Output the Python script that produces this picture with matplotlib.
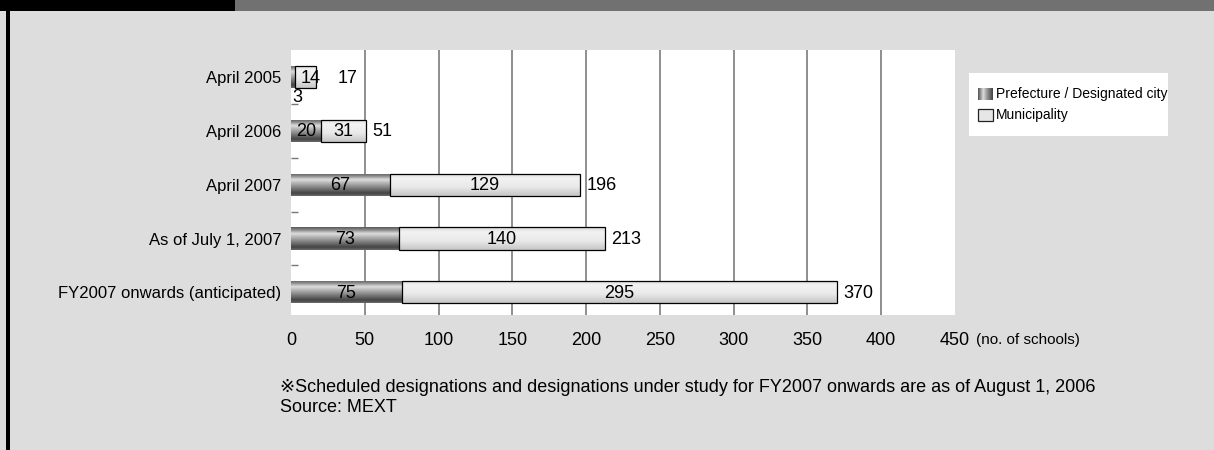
import numpy as np
import matplotlib
matplotlib.use("Agg")
import matplotlib.pyplot as plt
from matplotlib.patches import Rectangle
from matplotlib.colors import LinearSegmentedColormap

# ---- data -------------------------------------------------------------
categories = ["April 2005", "April 2006", "April 2007",
              "As of July 1, 2007", "FY2007 onwards (anticipated)"]
prefecture = [3, 20, 67, 73, 75]
municipality = [14, 31, 129, 140, 295]
series_names = ["Prefecture / Designated city", "Municipality"]
x_ticks = [0, 50, 100, 150, 200, 250, 300, 350, 400, 450]
x_unit = "(no. of schools)"
notes = ["\u203bScheduled designations and designations under study for FY2007 onwards are as of August 1, 2006",
         "Source: MEXT"]

# ---- style ------------------------------------------------------------
W, H = 1214, 450
BG = "#dcdddc"
NARROW = ["Liberation Sans Narrow", "Liberation Sans", "DejaVu Sans"]
REGULAR = ["Liberation Sans", "DejaVu Sans"]

dark_cmap = LinearSegmentedColormap.from_list(
    "dark", [(0.0, "#5a5a5a"), (0.12, "#8a8a8a"), (0.28, "#dedede"),
             (0.45, "#b0b0b0"), (0.70, "#707070"), (0.88, "#444444"),
             (1.0, "#6a6a6a")])
light_cmap = LinearSegmentedColormap.from_list(
    "light", [(0.0, "#d4d4d4"), (0.2, "#f2f2f2"), (0.6, "#e9e9e9"),
              (1.0, "#c6c6c6")])
grad = np.linspace(0, 1, 64).reshape(-1, 1)

fig = plt.figure(figsize=(W / 100, H / 100), dpi=100, facecolor=BG)

# page decoration: header strip and left rule
fig.patches.append(Rectangle((0, 1 - 11 / H), 235 / W, 11 / H, transform=fig.transFigure,
                             facecolor="black", edgecolor="none"))
fig.patches.append(Rectangle((235 / W, 1 - 11 / H), 1 - 235 / W, 11 / H, transform=fig.transFigure,
                             facecolor="#717171", edgecolor="none"))
fig.patches.append(Rectangle((6 / W, 0), 4 / W, 1 - 11 / H, transform=fig.transFigure,
                             facecolor="black", edgecolor="none"))

# ---- main axes --------------------------------------------------------
ax_l, ax_r, ax_t, ax_b = 291, 955, 50, 315
ax = fig.add_axes([ax_l / W, 1 - ax_b / H, (ax_r - ax_l) / W, (ax_b - ax_t) / H])
ax.set_facecolor("white")
for s in ax.spines.values():
    s.set_visible(False)

y = np.arange(len(categories))
bar_h = 0.41
totals = [p + m for p, m in zip(prefecture, municipality)]

pref_bars = ax.barh(y, prefecture, height=bar_h, color="none", edgecolor="none", zorder=3)
muni_bars = ax.barh(y, municipality, left=prefecture, height=bar_h, color="none",
                    edgecolor="black", linewidth=0.9, zorder=4)

def fill_gradient(patch, cmap):
    x0, y0 = patch.get_x(), patch.get_y()
    w, h = patch.get_width(), patch.get_height()
    im = ax.imshow(grad, cmap=cmap, vmin=0, vmax=1, aspect="auto", origin="upper",
                   extent=(x0, x0 + w, y0 + h, y0), interpolation="bilinear", zorder=2.5)
    im.set_clip_path(patch)

for p in pref_bars:
    fill_gradient(p, dark_cmap)
for p in muni_bars:
    fill_gradient(p, light_cmap)

for xv in x_ticks[1:-1]:
    ax.axvline(xv, color="#7c7c7c", linewidth=1.2, zorder=1)

ax.set_xlim(x_ticks[0], x_ticks[-1])
ax.set_ylim(4.42, -0.5)

ax.set_xticks(x_ticks)
ax.set_xticklabels([str(t) for t in x_ticks], fontsize=13, family=REGULAR)
ax.tick_params(axis="x", length=0, pad=12)
ax.set_yticks(y)
ax.set_yticklabels(categories, fontsize=12, family=NARROW)
ax.tick_params(axis="y", which="major", length=0, pad=7)
ax.set_yticks(y[:-1] + 0.5, minor=True)
ax.tick_params(axis="y", which="minor", direction="in", length=5, width=1, color="#777777")

# value labels
px = 1.0 / ((ax_r - ax_l) / (x_ticks[-1] - x_ticks[0]))  # data units per pixel
for i in range(len(categories)):
    p, m, t = prefecture[i], municipality[i], totals[i]
    if p >= 8:
        ax.text(p / 2, i + 0.02, str(p), ha="center", va="center", fontsize=13,
                family=REGULAR, zorder=6)
    else:
        ax.text(p / 2 + 3, i + 0.39, str(p), ha="center", va="center", fontsize=13,
                family=REGULAR, zorder=6)
    ax.text(p + m / 2 + (3 if m < 20 else 0), i + 0.02, str(m), ha="center", va="center",
            fontsize=13, family=REGULAR, zorder=6)
    off = 22 if m < 20 else 6
    ax.text(t + off * px, i + 0.02, str(t), ha="left", va="center", fontsize=13,
            family=REGULAR, zorder=6)

fig.text(976 / W, 1 - 340 / H, x_unit, ha="left", va="center", fontsize=11, family=NARROW)

# ---- legend -----------------------------------------------------------
lg = fig.add_axes([969 / W, 1 - 136 / H, 199 / W, 63 / H])
lg.set_facecolor("white")
lg.set_xticks([])
lg.set_yticks([])
for s in lg.spines.values():
    s.set_visible(False)
hgrad = np.linspace(0, 1, 32).reshape(1, -1)
stripe_cmap = LinearSegmentedColormap.from_list(
    "stripe", [(0.0, "#555555"), (0.35, "#dddddd"), (0.6, "#999999"), (1.0, "#444444")])
rows = [21, 42]
lg.imshow(hgrad, cmap=stripe_cmap, aspect="auto", extent=(9, 24, rows[0] + 6, rows[0] - 6),
          interpolation="bilinear")
sw = Rectangle((9, rows[1] - 6), 15, 12, facecolor="#e6e6e6", edgecolor="#222222", linewidth=0.9)
lg.add_patch(sw)
lg.set_xlim(0, 199)
lg.set_ylim(63, 0)
for r, name in zip(rows, series_names):
    lg.text(27, r, name, ha="left", va="center", fontsize=10, family=NARROW)

# ---- notes ------------------------------------------------------------
fig.text(280 / W, 1 - 387 / H, notes[0], ha="left", va="center", fontsize=13, family=NARROW)
fig.text(280 / W, 1 - 408 / H, notes[1], ha="left", va="center", fontsize=13, family=NARROW)

fig.savefig("out.png", dpi=100, facecolor=BG)
